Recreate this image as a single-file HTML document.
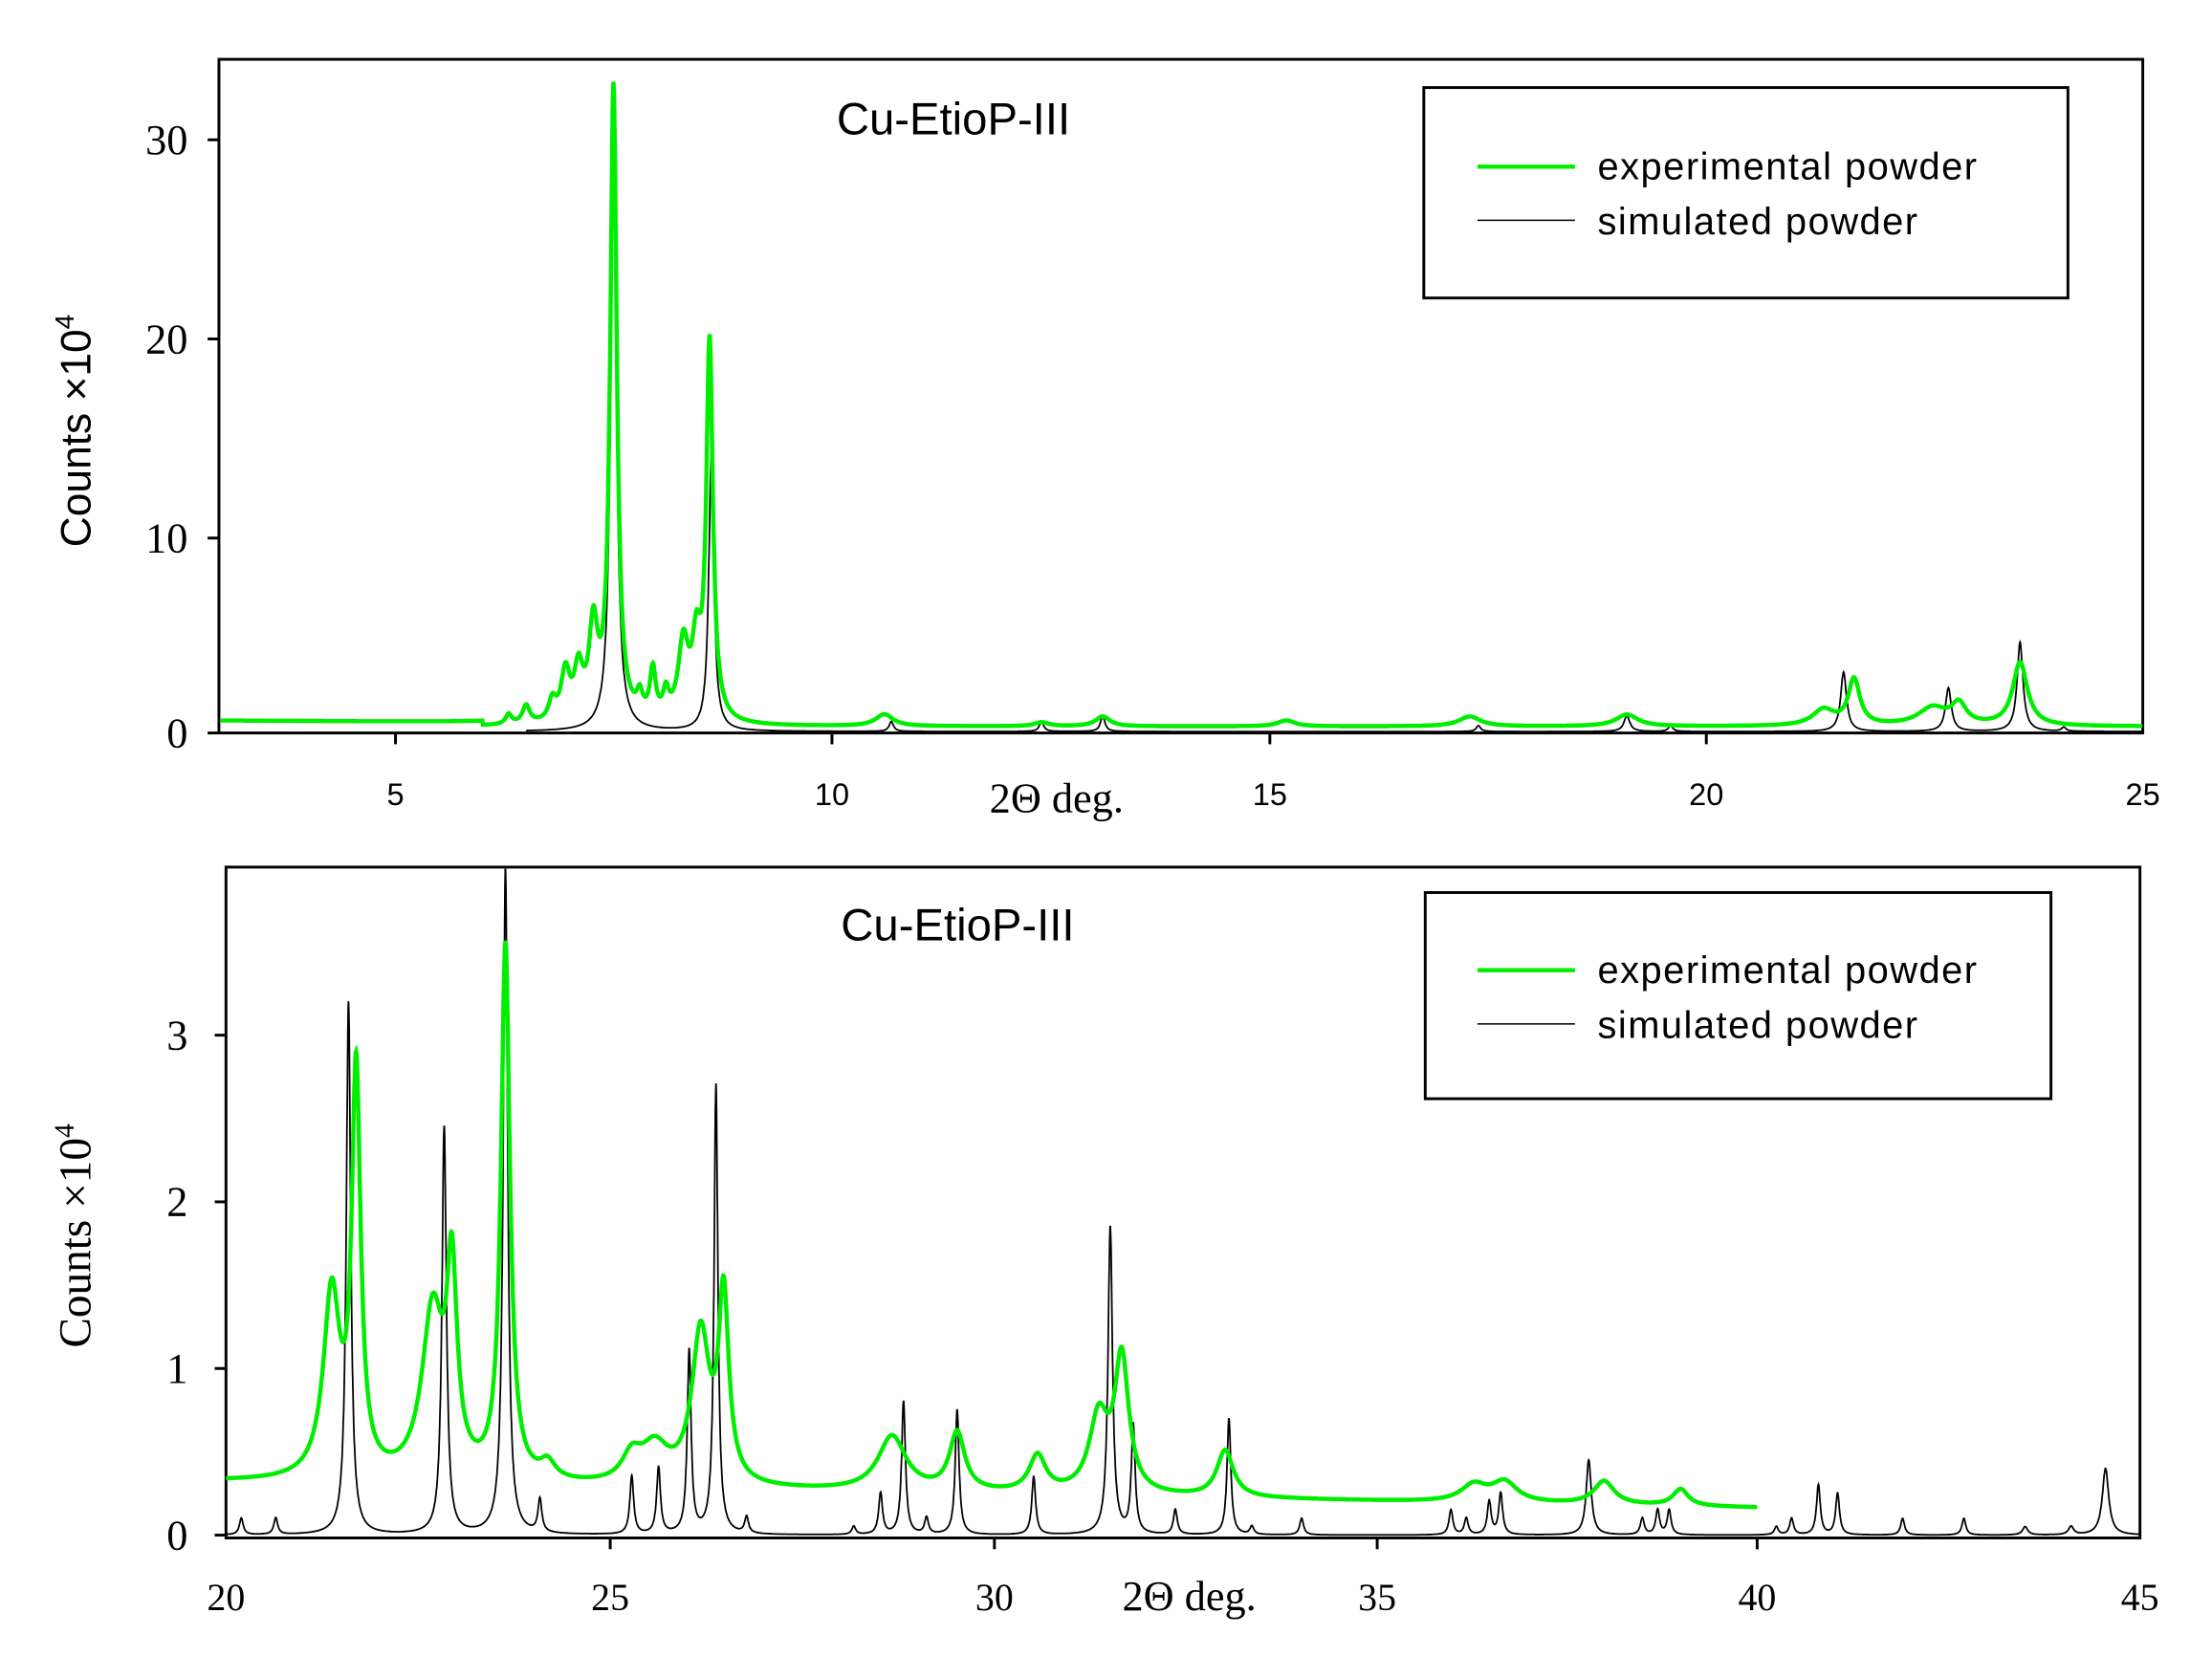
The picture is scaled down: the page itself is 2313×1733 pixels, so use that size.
<!DOCTYPE html>
<html><head><meta charset="utf-8"><style>
html,body{margin:0;padding:0;background:#fff;}
svg{display:block;}
.ser{font-family:"Liberation Serif",serif;}
.san{font-family:"Liberation Sans",sans-serif;}
</style></head><body>
<svg id="s" width="2313" height="1733" viewBox="0 0 1566 1173.3" preserveAspectRatio="none" xmlns="http://www.w3.org/2000/svg">
<rect width="1566" height="1174" fill="#fff"/>
<g fill="none" stroke="#000" stroke-width="2">
<rect x="155" y="42" width="1362" height="477"/>
<line x1="280" y1="519" x2="280" y2="527"/><line x1="589" y1="519" x2="589" y2="527"/>
<line x1="899" y1="519" x2="899" y2="527"/><line x1="1208" y1="519" x2="1208" y2="527"/>
<line x1="147" y1="519" x2="155" y2="519"/><line x1="147" y1="381" x2="155" y2="381"/>
<line x1="147" y1="240" x2="155" y2="240"/><line x1="147" y1="99" x2="155" y2="99"/>
</g>
<g class="ser" font-size="30" text-anchor="end">
<text x="133" y="529">0</text><text x="133" y="391">10</text><text x="133" y="250">20</text><text x="133" y="109">30</text>
</g>
<g class="san" font-size="22" text-anchor="middle">
<text x="280" y="570">5</text><text x="589" y="570">10</text><text x="899" y="570">15</text><text x="1208" y="570">20</text><text x="1517" y="570">25</text>
</g>
<text class="ser" x="748" y="575" font-size="30" text-anchor="middle">2Θ deg.</text>
<text class="san" x="64" y="305" font-size="30" text-anchor="middle" transform="rotate(-90 64 305)">Counts ×10<tspan font-size="19" dy="-12">4</tspan></text>
<text class="san" x="675" y="95" font-size="32" text-anchor="middle">Cu-EtioP-III</text>
<rect x="1008" y="62" width="456" height="149" fill="#fff" stroke="#000" stroke-width="2"/>
<line x1="1046" y1="118" x2="1115" y2="118" stroke="#00ee00" stroke-width="3"/>
<line x1="1046" y1="156" x2="1115" y2="156" stroke="#000" stroke-width="1"/>
<text class="san" x="1131" y="127" font-size="27" letter-spacing="1">experimental powder</text>
<text class="san" x="1131" y="166" font-size="27" letter-spacing="1">simulated powder</text>
<path id="t_sim" fill="none" stroke="#000" stroke-width="1.2"/>
<path id="t_exp" fill="none" stroke="#00ee00" stroke-width="3"/>

<g fill="none" stroke="#000" stroke-width="2">
<rect x="160" y="614" width="1355" height="475"/>
<line x1="432" y1="1089" x2="432" y2="1097"/><line x1="704" y1="1089" x2="704" y2="1097"/>
<line x1="975" y1="1089" x2="975" y2="1097"/><line x1="1244" y1="1089" x2="1244" y2="1097"/>
<line x1="152" y1="1087" x2="160" y2="1087"/><line x1="152" y1="969" x2="160" y2="969"/>
<line x1="152" y1="851" x2="160" y2="851"/><line x1="152" y1="733" x2="160" y2="733"/>
</g>
<g class="ser" font-size="30" text-anchor="end">
<text x="133" y="1097">0</text><text x="133" y="979">1</text><text x="133" y="861">2</text><text x="133" y="743">3</text>
</g>
<g class="ser" font-size="27" text-anchor="middle">
<text x="160" y="1140">20</text><text x="432" y="1140">25</text><text x="704" y="1140">30</text><text x="975" y="1140">35</text><text x="1244" y="1140">40</text><text x="1515" y="1140">45</text>
</g>
<text class="ser" x="842" y="1140" font-size="30" text-anchor="middle">2Θ deg.</text>
<text class="ser" x="64" y="875" font-size="32" text-anchor="middle" transform="rotate(-90 64 875)">Counts ×10<tspan font-size="20" dy="-12">4</tspan></text>
<text class="san" x="678" y="666" font-size="32" text-anchor="middle">Cu-EtioP-III</text>
<rect x="1009" y="632" width="443" height="146" fill="#fff" stroke="#000" stroke-width="2"/>
<line x1="1046" y1="687" x2="1115" y2="687" stroke="#00ee00" stroke-width="3"/>
<line x1="1046" y1="725" x2="1115" y2="725" stroke="#000" stroke-width="1"/>
<text class="san" x="1131" y="696" font-size="27" letter-spacing="1">experimental powder</text>
<text class="san" x="1131" y="735" font-size="27" letter-spacing="1">simulated powder</text>
<path id="b_sim" fill="none" stroke="#000" stroke-width="1.2"/>
<path id="b_exp" fill="none" stroke="#00ee00" stroke-width="3"/>
</svg>
<script>
function mk(x0,x1,step,base,peaks){var pts=[];for(var x=x0;x<=x1+1e-9;x+=step){var y=base(x);for(var i=0;i<peaks.length;i++){var p=peaks[i];var d=(x-p[0])/p[2];y+=p[1]/(1+d*d);}pts.push([x,y]);}return pts;}
function path(pts,fx,fy,ymin){return pts.map(function(p,i){var Y=fy(p[1]);if(Y<ymin)Y=ymin;return (i?'L':'M')+fx(p[0]).toFixed(1)+' '+Y.toFixed(1);}).join('');}
var tfx=function(x){return 156+(x-3)*61.85},tfy=function(y){return 518-y*14.05};
var ts=[[7.5,29.5,.04],[8.62,14,.035],[10.68,.5,.03],[12.4,.5,.03],[13.1,.8,.03],[17.4,.3,.03],[19.1,.8,.04],[19.6,.3,.03],[21.58,3,.04],[22.78,2.2,.04],[23.6,4.5,.04],[24.1,.2,.03]];
var te=[[6.3,.5,.04],[6.5,.9,.05],[6.8,1,.05],[6.95,2.4,.06],[7.1,2.4,.06],[7.27,4.5,.06],[7.5,32,.045],[7.8,1,.04],[7.95,2.4,.04],[8.1,1.2,.04],[8.3,3.8,.07],[8.45,3.5,.06],[8.6,19,.045],[10.6,.6,.12],[12.4,.2,.1],[13.1,.5,.1],[15.2,.3,.12],[17.3,.5,.15],[19.1,.6,.15],[21.35,.8,.15],[21.7,2.3,.08],[22.6,.9,.2],[22.9,1,.1],[23.6,3.2,.1]];
document.getElementById('t_sim').setAttribute('d',path(mk(6.5,25,.005,function(){return 0},ts),tfx,tfy,44));
document.getElementById('t_exp').setAttribute('d',path(mk(3,25,.005,function(x){return x<6?0.55-0.03*(x-3):0.25},te),tfx,tfy,44));
var bfx=function(x){return 160+(x-20)*54.2},bfy=function(y){return 1087-y*118};
var bs=[[20.2,.1,.03],[20.65,.1,.03],[21.6,3.2,.035],[22.85,2.45,.035],[23.65,4,.035],[24.1,.2,.03],[25.3,.35,.03],[25.65,.4,.03],[26.05,1.1,.03],[26.4,2.7,.03],[26.8,.1,.03],[28.2,.05,.03],[28.55,.25,.03],[28.85,.8,.03],[29.15,.1,.03],[29.55,.75,.03],[30.55,.35,.03],[31.55,1.85,.035],[31.85,.65,.03],[32.4,.15,.03],[33.1,.7,.03],[33.4,.05,.03],[34.05,.1,.03],[36,.15,.03],[36.2,.1,.03],[36.5,.2,.03],[36.65,.25,.03],[37.8,.45,.04],[38.5,.1,.03],[38.7,.15,.03],[38.85,.15,.03],[40.25,.05,.03],[40.45,.1,.03],[40.8,.3,.03],[41.05,.25,.03],[41.9,.1,.03],[42.7,.1,.03],[43.5,.05,.04],[44.1,.05,.04],[44.55,.4,.05]];
var be=[[21.38,1.1,.13],[21.7,2.4,.07],[22.7,1.0,.17],[22.95,1.15,.08],[23.65,3.2,.07],[24.2,.1,.12],[25.3,.15,.15],[25.6,.22,.22],[26.2,.9,.14],[26.5,1.1,.08],[28.7,.33,.22],[29.55,.35,.12],[30.6,.22,.13],[31.4,.45,.15],[31.7,.8,.11],[33.05,.28,.13],[36.3,.1,.2],[36.7,.12,.2],[38.0,.14,.16],[39.0,.1,.12]];
document.getElementById('b_sim').setAttribute('d',path(mk(20,45,.004,function(){return 0},bs),bfx,bfy,614));
document.getElementById('b_exp').setAttribute('d',path(mk(20,40,.004,function(x){return 0.32-0.0078*(x-20)},be),bfx,bfy,614));
</script>
</body></html>
